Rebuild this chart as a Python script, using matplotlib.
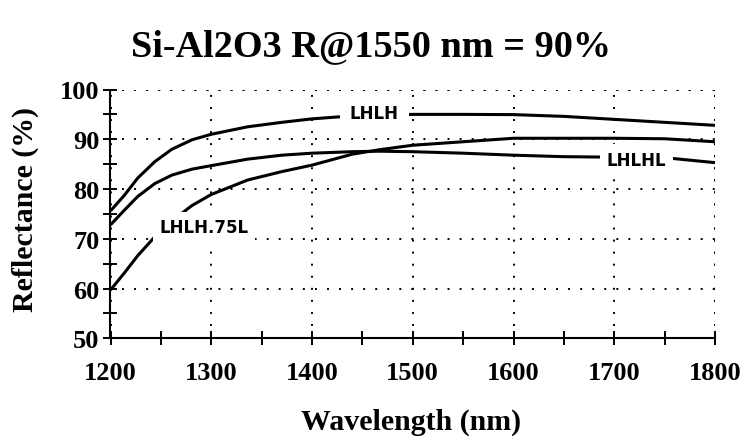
import matplotlib
matplotlib.use("Agg")
import matplotlib.pyplot as plt
from matplotlib.ticker import MultipleLocator

# ---- data ----
wavelength = [1200, 1214, 1227, 1244, 1261, 1281, 1300, 1336, 1370, 1400,
              1440, 1467, 1500, 1550, 1600, 1650, 1700, 1750, 1800]
lhlh = [75.6, 78.8, 82.2, 85.5, 88.0, 89.9, 91.0, 92.5, 93.4, 94.1,
        94.7, 94.9, 95.0, 95.0, 94.95, 94.6, 94.0, 93.4, 92.8]
lhlhl = [72.8, 75.8, 78.5, 81.1, 82.8, 84.0, 84.7, 86.0, 86.8, 87.2,
         87.5, 87.6, 87.5, 87.2, 86.8, 86.5, 86.4, 86.3, 85.3]
lhlh75l = [59.7, 63.2, 66.6, 70.4, 73.6, 76.7, 78.9, 81.8, 83.5, 84.8,
           87.0, 87.9, 88.8, 89.5, 90.2, 90.2, 90.2, 90.1, 89.5]

series_names = ["LHLH", "LHLHL", "LHLH.75L"]
label_pos = [(1462, 95.3), (1722, 85.8), (1293, 72.3)]

title = "Si-Al2O3 R@1550 nm = 90%"
xlabel = "Wavelength (nm)"
ylabel = "Reflectance (%)"
xticks = [1200, 1300, 1400, 1500, 1600, 1700, 1800]
yticks = [50, 60, 70, 80, 90, 100]

serif = "Liberation Serif"

fig = plt.figure(figsize=(7.42, 4.39), dpi=100)
ax = fig.add_axes([110.5 / 742, 1 - 339.3 / 439, (715 - 110.5) / 742, (339.3 - 90.5) / 439])

for ys in (lhlh, lhlhl, lhlh75l):
    ax.plot(wavelength, ys, color="black", lw=2.2, solid_capstyle="butt", zorder=3)

label_pads = [7, 5, 4.5]
for name, (lx, ly), pd in zip(series_names, label_pos, label_pads):
    ax.text(lx, ly, name, ha="center", va="center", fontsize=12,
            fontweight="bold", family="DejaVu Sans", zorder=5,
            bbox=dict(facecolor="white", edgecolor="none", pad=pd))

ax.set_xlim(1200, 1800)
ax.set_ylim(50, 100)
ax.set_xticks(xticks)
ax.set_yticks(yticks)
ax.xaxis.set_minor_locator(MultipleLocator(50))
ax.yaxis.set_minor_locator(MultipleLocator(5))

for s in ("top", "right"):
    ax.spines[s].set_visible(False)
for s in ("left", "bottom"):
    ax.spines[s].set_linewidth(1.5)

ax.tick_params(which="both", direction="inout", length=10, width=1.4, color="black")
ax.tick_params(axis="x", which="both", pad=11)
ax.tick_params(axis="y", which="both", pad=3)
for lab in ax.get_xticklabels() + ax.get_yticklabels():
    lab.set_fontfamily(serif)
    lab.set_fontweight("bold")
    lab.set_fontsize(19)

dots = (0, (1, 5.2))
ax.grid(True, which="major", color="black", linestyle=dots, linewidth=1.4)
ax.axhline(100, color="black", linestyle=dots, linewidth=1.4, zorder=1)
ax.axvline(1800, color="black", linestyle=dots, linewidth=1.4, zorder=1)

fig.text(371 / 742, 1 - 56 / 439, title, ha="center", va="baseline",
         fontsize=27.5, fontweight="bold", family=serif)
fig.text(411 / 742, 1 - 422 / 439, xlabel, ha="center", va="center",
         fontsize=21.5, fontweight="bold", family=serif)
fig.text(25 / 742, 1 - 210 / 439, ylabel, ha="center", va="center", rotation=90,
         fontsize=21.5, fontweight="bold", family=serif)

fig.savefig("out.png", dpi=100, facecolor="white")
